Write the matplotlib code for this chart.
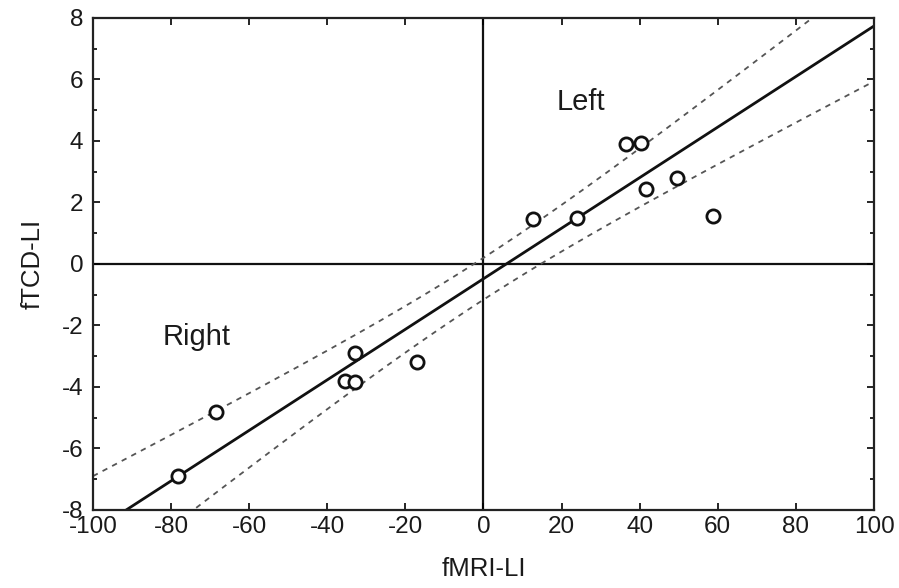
import numpy as np
import matplotlib
matplotlib.use("Agg")
import matplotlib.pyplot as plt
from matplotlib.ticker import MultipleLocator

# fMRI vs fTCD laterality index
fmri_li = [-78.2, -68.5, -33.0, -35.5, -32.9, -17.0, 12.7, 23.9, 36.5, 40.3, 41.6, 49.6, 58.8]
ftcd_li = [-6.9, -4.8, -2.9, -3.8, -3.85, -3.2, 1.45, 1.5, 3.9, 3.95, 2.45, 2.8, 1.55]

# regression line and confidence band as drawn in the original
fit_slope = 0.0822
fit_icpt = -0.48
band_hw_center = 0.68   # half width at x = 0
band_hw_edge = 1.80     # half width at x = +-100

x_ticks = [-100, -80, -60, -40, -20, 0, 20, 40, 60, 80, 100]
y_ticks = [-8, -6, -4, -2, 0, 2, 4, 6, 8]

plt.rcParams['font.family'] = ['Liberation Sans', 'DejaVu Sans']
plt.rcParams['axes.unicode_minus'] = False

xx = np.linspace(-100, 100, 200)
yy = fit_slope * xx + fit_icpt
hw = np.sqrt(band_hw_center ** 2 + (xx / 100.0) ** 2 * (band_hw_edge ** 2 - band_hw_center ** 2))

fig = plt.figure(figsize=(8.99, 5.88), dpi=100)
ax = fig.add_axes([0.1034, 0.1327, 0.8688, 0.8367])

ax.axhline(0, color='#111111', lw=1.6, zorder=1)
ax.axvline(0, color='#111111', lw=1.6, zorder=1)

ax.plot(xx, yy, color='#111111', lw=2.0, zorder=2)
ax.plot(xx, yy + hw, color='#555555', lw=1.3, ls=(0, (3, 3)), zorder=2)
ax.plot(xx, yy - hw, color='#555555', lw=1.3, ls=(0, (3, 3)), zorder=2)

ax.plot(fmri_li, ftcd_li, 'o', ms=9.5, mfc='white', mec='#111111', mew=2.0, zorder=3)

ax.set_xlim(-100, 100)
ax.set_ylim(-8, 8)
ax.set_xticks(x_ticks)
ax.set_yticks(y_ticks)
ax.yaxis.set_minor_locator(MultipleLocator(1))
ax.tick_params(which='both', direction='in', top=True, right=True,
               labelsize=17.5, labelcolor='#1a1a1a', width=1.2)
ax.tick_params(axis='y', pad=7)
ax.tick_params(axis='x', pad=4)
ax.tick_params(which='major', length=5)
ax.tick_params(which='minor', length=3)
for sp in ax.spines.values():
    sp.set_linewidth(1.6)
    sp.set_color('#222222')

ax.text(18.8, 5.0, 'Left', fontsize=21, color='#1a1a1a')
ax.text(-82.1, -2.63, 'Right', fontsize=21, color='#1a1a1a')

ax.set_xlabel('fMRI-LI', fontsize=18.5, color='#1a1a1a', labelpad=14)
ax.set_ylabel('fTCD-LI', fontsize=18.5, color='#1a1a1a', labelpad=12)

fig.savefig('out.png', dpi=100)
